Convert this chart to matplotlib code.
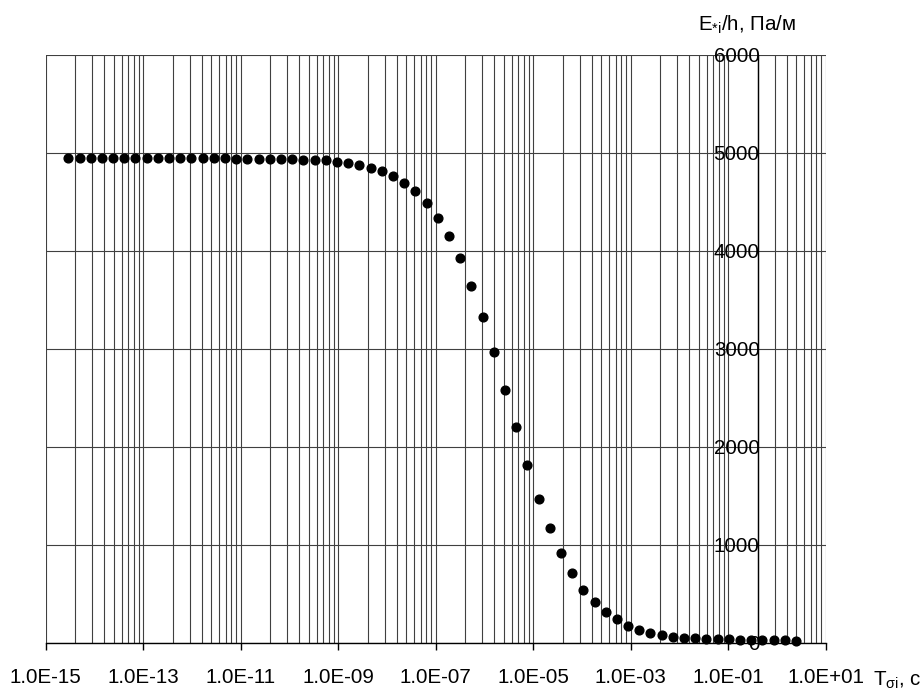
import matplotlib
matplotlib.use("Agg")
import matplotlib.pyplot as plt
from matplotlib.ticker import FixedLocator, FixedFormatter, NullFormatter
import numpy as np

plt.rcParams['font.family'] = ['Liberation Sans', 'DejaVu Sans']
plt.rcParams['mathtext.fontset'] = 'custom'
plt.rcParams['mathtext.rm'] = 'Liberation Sans'
plt.rcParams['mathtext.it'] = 'Liberation Sans:italic'

# log10 of relaxation time T
log_tau = [-14.536, -14.306, -14.077, -13.847, -13.617, -13.388, -13.158, -12.928,
           -12.699, -12.469, -12.240, -12.010, -11.780, -11.551, -11.321, -11.091,
           -10.862, -10.632, -10.402, -10.173, -9.943, -9.713, -9.484, -9.254,
           -9.024, -8.795, -8.565, -8.335, -8.106, -7.876, -7.647, -7.417,
           -7.187, -6.958, -6.728, -6.498, -6.269, -6.039, -5.809, -5.580,
           -5.350, -5.120, -4.891, -4.661, -4.431, -4.202, -3.972, -3.742,
           -3.513, -3.283, -3.054, -2.824, -2.594, -2.365, -2.135, -1.905,
           -1.676, -1.446, -1.216, -0.987, -0.757, -0.527, -0.298, -0.068,
           0.162, 0.391]
# E*i/h, Pa/m
e_values = [4945, 4945, 4945, 4944, 4944, 4944, 4943, 4943,
            4943, 4942, 4942, 4941, 4941, 4940, 4940, 4939,
            4938, 4937, 4936, 4934, 4932, 4926, 4924, 4920,
            4908, 4890, 4878, 4846, 4810, 4764, 4685, 4607,
            4482, 4338, 4150, 3924, 3635, 3320, 2962, 2577,
            2198, 1819, 1471, 1169, 916, 714, 540, 415,
            320, 241, 176, 132, 102, 82, 65, 56,
            55, 43, 42, 40, 30, 28, 28, 27,
            26, 25]

x_major = [1e-15, 1e-13, 1e-11, 1e-9, 1e-7, 1e-5, 1e-3, 1e-1, 1e1]
x_labels = ["1.0E-15", "1.0E-13", "1.0E-11", "1.0E-09", "1.0E-07",
            "1.0E-05", "1.0E-03", "1.0E-01", "1.0E+01"]
y_ticks = [0, 1000, 2000, 3000, 4000, 5000, 6000]
y_labels = ["0", "1000", "2000", "3000", "4000", "5000", "6000"]
y_axis_cross = 0.4

tau = [10 ** v for v in log_tau]

fig = plt.figure(figsize=(9.21, 6.91), dpi=100)
ax = fig.add_axes([45.7 / 921, 1 - 643 / 691, (825.7 - 45.7) / 921, (643 - 54.5) / 691])
ax.set_xscale('log')
ax.set_xlim(1e-15, 1e1)
ax.set_ylim(0, 6000)

minor = [m * k * k for m in x_major[:-1] for k in range(2, 10)]
ax.xaxis.set_major_locator(FixedLocator(x_major))
ax.xaxis.set_major_formatter(FixedFormatter(x_labels))
ax.xaxis.set_minor_locator(FixedLocator(minor))
ax.xaxis.set_minor_formatter(NullFormatter())
ax.yaxis.set_major_locator(FixedLocator(y_ticks))
ax.yaxis.set_major_formatter(FixedFormatter(y_labels))

gkw = dict(color='#404040', linewidth=0.8)
ax.grid(True, which='major', axis='both', **gkw)
ax.grid(True, which='minor', axis='x', **gkw)

ax.plot(tau, e_values, linestyle='none', marker='o', markersize=6.3,
        color='black', zorder=5, clip_on=False)

for s in ('top', 'right'):
    ax.spines[s].set_visible(False)
ax.spines['bottom'].set_color('black')
ax.spines['bottom'].set_linewidth(1.0)
ax.spines['left'].set_position(('data', y_axis_cross))
ax.spines['left'].set_color('black')
ax.spines['left'].set_linewidth(1.0)
ax.spines['left'].set_zorder(4)

ax.tick_params(axis='x', which='major', direction='out', length=5, width=1,
               color='black', pad=13, labelsize=14.8)
ax.tick_params(axis='x', which='minor', length=0)
ax.tick_params(axis='y', which='major', length=0, pad=-1.5, labelsize=14.8)

fig.text(698 / 921, 1 - 25 / 691, "E$_{\\mathrm{*i}}$/h, Па/м", fontsize=14.8,
         ha='left', va='center')
fig.text(873 / 921, 1 - 680 / 691, "T$_{\\mathrm{σi}}$, с", fontsize=14.8,
         ha='left', va='center')

fig.savefig("out.png", dpi=100)
